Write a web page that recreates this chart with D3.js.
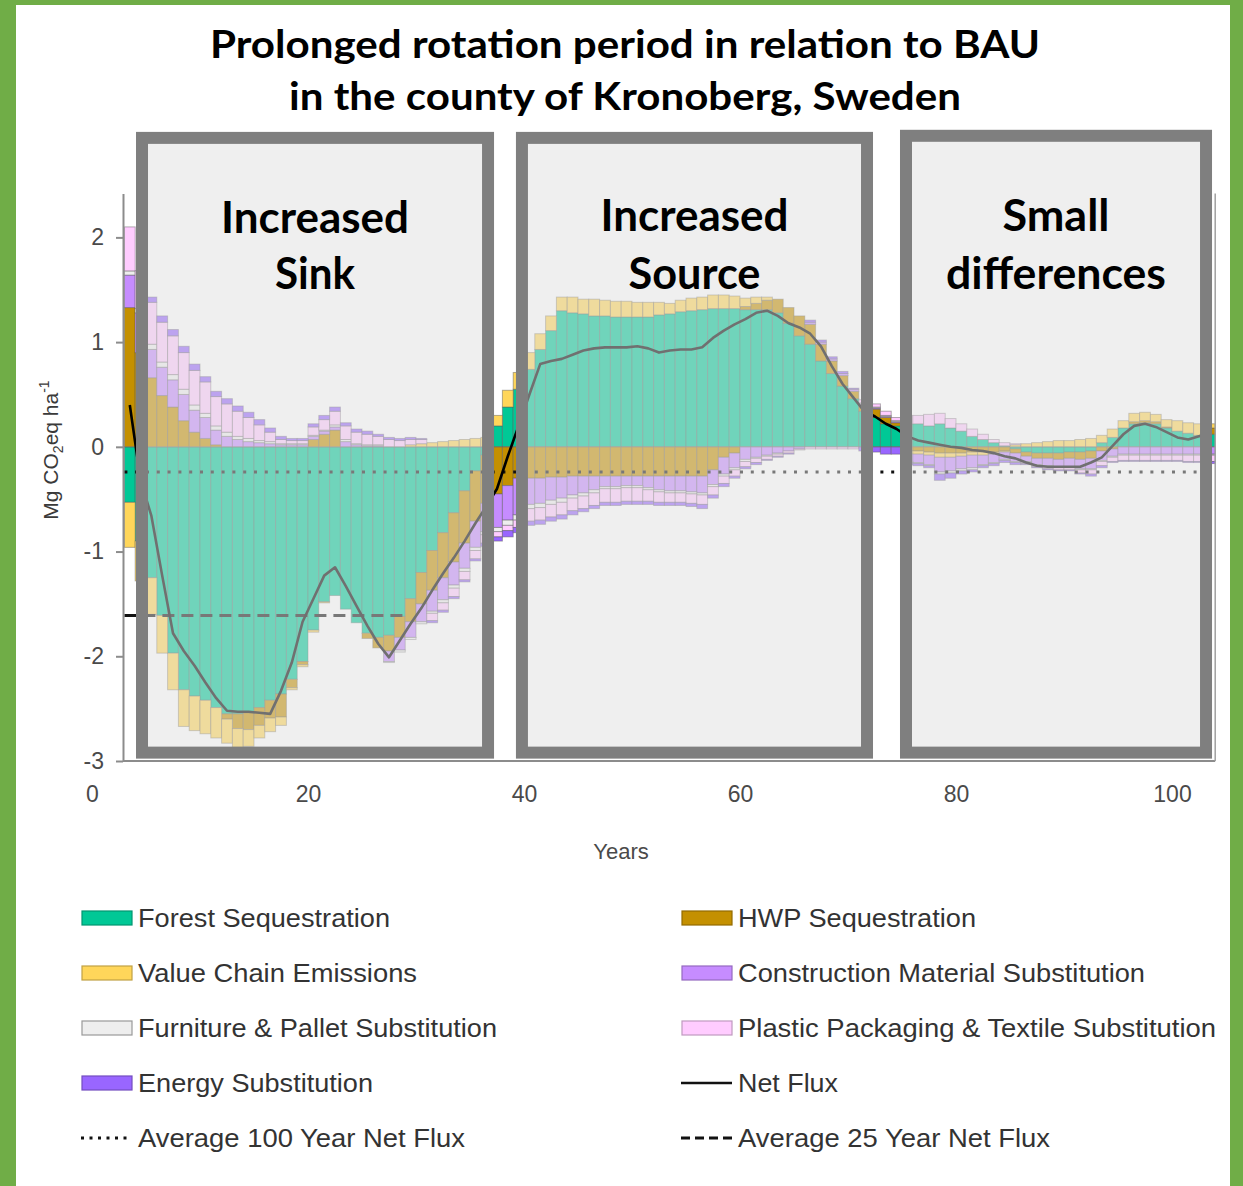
<!DOCTYPE html>
<html>
<head>
<meta charset="utf-8">
<script src="https://cdn.jsdelivr.net/npm/d3@7"></script>
<style>
  html, body { margin: 0; padding: 0; background: #fff; }
  svg { display: block; }
</style>
</head>
<body>
<svg id="chart"></svg>
<script>
// years shown as bars (one bar per year)
const years = [
     3,   4,   5,   6,   7,   8,   9,  10,  11,  12,
    13,  14,  15,  16,  17,  18,  19,  20,  21,  22,
    23,  24,  25,  26,  27,  28,  29,  30,  31,  32,
    33,  34,  35,  36,  37,  38,  39,  40,  41,  42,
    43,  44,  45,  46,  47,  48,  49,  50,  51,  52,
    53,  54,  55,  56,  57,  58,  59,  60,  61,  62,
    63,  64,  65,  66,  67,  68,  69,  70,  71,  72,
    73,  74,  75,  76,  77,  78,  79,  80,  81,  82,
    83,  84,  85,  86,  87,  88,  89,  90,  91,  92,
    93,  94,  95,  96,  97,  98,  99, 100, 101, 102,
   103
];

const forestSeq = [
  -0.53, -0.90, -1.25, -1.61, -1.97, -2.32, -2.38, -2.42, -2.49, -2.55,
  -2.55, -2.54, -2.49, -2.42, -2.36, -2.22, -2.05, -1.75, -1.48, -1.42,
  -1.55, -1.68, -1.78, -1.82, -1.80, -1.62, -1.45, -1.20, -0.99, -0.82,
  -0.63, -0.42, -0.23, -0.08,  0.20,  0.38,  0.55,  0.74,  0.93,  1.11,
   1.30,  1.28,  1.27,  1.25,  1.25,  1.24,  1.24,  1.24,  1.24,  1.26,
   1.27,  1.29,  1.30,  1.31,  1.32,  1.32,  1.32,  1.31,  1.31,  1.31,
   1.28,  1.18,  1.06,  0.98,  0.82,  0.70,  0.58,  0.46,  0.34,  0.28,
   0.22,  0.20,  0.22,  0.22,  0.20,  0.22,  0.18,  0.15,  0.10,  0.07,
   0.04,  0.01, -0.02, -0.05, -0.06, -0.06, -0.06, -0.05, -0.05, -0.04,
   0.04,  0.09,  0.18,  0.22,  0.23,  0.22,  0.18,  0.15,  0.13,  0.11,
   0.12
];

const hwpSeq = [
   1.33,  0.90,  0.66,  0.49,  0.38,  0.25,  0.14,  0.08,  0.02, -0.05,
  -0.14, -0.16, -0.17, -0.17, -0.22, -0.08, -0.03,  0.07,  0.12,  0.16,
   0.00,  0.00, -0.05, -0.10, -0.15, -0.20, -0.22, -0.30, -0.38, -0.43,
  -0.47, -0.50, -0.48, -0.46, -0.45, -0.37, -0.30, -0.30, -0.30, -0.29,
  -0.29, -0.28, -0.28, -0.28, -0.28, -0.28, -0.28, -0.28, -0.28, -0.28,
  -0.28, -0.28, -0.28, -0.28, -0.22, -0.10, -0.06,  0.03,  0.06,  0.09,
   0.13,  0.15,  0.19,  0.19,  0.16,  0.12,  0.10,  0.07,  0.06,  0.08,
   0.06,  0.03, -0.04, -0.04, -0.05, -0.06, -0.06, -0.06, -0.05, -0.05,
  -0.05, -0.04, -0.04, -0.04, -0.05, -0.05, -0.06, -0.06, -0.07, -0.07,
  -0.04, -0.02,  0.00,  0.02,  0.02,  0.02,  0.01,  0.00,  0.00,  0.00,
   0.06
];

const valueChain = [
  -0.43, -0.38, -0.35, -0.36, -0.35, -0.35, -0.33, -0.32, -0.29, -0.23,
  -0.18, -0.16, -0.12, -0.13, -0.08, -0.02, -0.02, -0.02, -0.01,  0.00,
   0.00,  0.00,  0.00,  0.00,  0.00,  0.00,  0.02,  0.03,  0.04,  0.05,
   0.06,  0.07,  0.08,  0.09,  0.10,  0.16,  0.16,  0.16,  0.15,  0.14,
   0.13,  0.15,  0.14,  0.16,  0.15,  0.15,  0.15,  0.14,  0.14,  0.12,
   0.10,  0.11,  0.12,  0.12,  0.13,  0.13,  0.12,  0.08,  0.06,  0.03,
   0.00,  0.00,  0.00,  0.00,  0.00,  0.00,  0.00,  0.00,  0.00,  0.00,
   0.00,  0.00, -0.03, -0.03, -0.03, -0.04, -0.04, -0.03, -0.03, -0.03,
  -0.02, -0.01,  0.02,  0.03,  0.04,  0.05,  0.06,  0.06,  0.07,  0.08,
   0.07,  0.08,  0.07,  0.08,  0.08,  0.07,  0.07,  0.10,  0.10,  0.11,
   0.04
];

const constructionSub = [
   0.31,  0.38,  0.27,  0.27,  0.26,  0.25,  0.21,  0.20,  0.14,  0.10,
   0.07,  0.05,  0.04,  0.03,  0.02,  0.02,  0.02,  0.03,  0.03,  0.03,
   0.05,  0.02,  0.01,  0.01, -0.10, -0.12, -0.15, -0.17, -0.20, -0.21,
  -0.22, -0.24, -0.25, -0.27, -0.32, -0.33, -0.35, -0.25, -0.24, -0.22,
  -0.20, -0.18, -0.16, -0.13, -0.10, -0.10, -0.09, -0.09, -0.11, -0.13,
  -0.14, -0.14, -0.15, -0.16, -0.14, -0.16, -0.14, -0.12, -0.10, -0.08,
  -0.06, -0.04, -0.02,  0.02,  0.02,  0.02,  0.02,  0.02,  0.01,  0.01,
   0.01,  0.01, -0.07, -0.08, -0.09, -0.14, -0.13, -0.12, -0.12, -0.09,
  -0.08, -0.07, -0.08, -0.05, -0.06, -0.07, -0.07, -0.08, -0.09, -0.10,
  -0.09, -0.07, -0.07, -0.07, -0.07, -0.07, -0.07, -0.07, -0.07, -0.07,
  -0.07
];

const furnitureSub = [
   0.04,  0.04,  0.05,  0.05,  0.05,  0.05,  0.05,  0.04,  0.04,  0.04,
   0.03,  0.03,  0.02,  0.02,  0.01,  0.01,  0.01,  0.01,  0.01,  0.02,
   0.02,  0.01,  0.01,  0.01, -0.01, -0.02, -0.02, -0.02, -0.02, -0.03,
  -0.03, -0.03, -0.03, -0.03, -0.04, -0.05, -0.05, -0.04, -0.04, -0.04,
  -0.04, -0.03, -0.03, -0.03, -0.02, -0.02, -0.02, -0.02, -0.02, -0.02,
  -0.02, -0.02, -0.02, -0.02, -0.02, -0.02, -0.02, -0.02, -0.01, -0.01,
  -0.01,  0.00,  0.00,  0.00,  0.00,  0.00,  0.00,  0.00,  0.01,  0.01,
   0.01,  0.01, -0.01, -0.01, -0.01, -0.02, -0.02, -0.02, -0.02, -0.01,
  -0.01, -0.01, -0.01, -0.01, -0.01, -0.01, -0.01, -0.01, -0.01, -0.01,
  -0.01, -0.01, -0.01, -0.01, -0.01, -0.01, -0.01, -0.01, -0.01, -0.01,
  -0.01
];

const plasticSub = [
   0.42,  0.36,  0.40,  0.38,  0.37,  0.35,  0.33,  0.30,  0.28,  0.27,
   0.24,  0.20,  0.15,  0.09,  0.04,  0.03,  0.03,  0.08,  0.10,  0.13,
   0.13,  0.11,  0.10,  0.08,  0.07,  0.06,  0.05,  0.04, -0.07, -0.07,
  -0.08, -0.08, -0.08, -0.08, -0.05, -0.05, -0.07, -0.12, -0.12, -0.12,
  -0.12, -0.12, -0.12, -0.12, -0.13, -0.13, -0.13, -0.13, -0.11, -0.10,
  -0.09, -0.09, -0.09, -0.09, -0.08, -0.07, -0.06, -0.05, -0.04, -0.03,
  -0.02, -0.02, -0.01, -0.02, -0.02, -0.02, -0.02, -0.02,  0.03,  0.03,
   0.04,  0.03,  0.08,  0.08,  0.11,  0.10,  0.09,  0.07,  0.07,  0.05,
   0.03,  0.03,  0.01, -0.01, -0.01, -0.02, -0.02, -0.02, -0.03, -0.04,
  -0.04, -0.04, -0.05, -0.05, -0.05, -0.05, -0.05, -0.05, -0.06, -0.06,
  -0.06
];

const energySub = [
   0.00,  0.00,  0.05,  0.06,  0.06,  0.06,  0.06,  0.05,  0.05,  0.05,
   0.05,  0.05,  0.05,  0.04,  0.03,  0.02,  0.02,  0.03,  0.04,  0.04,
   0.03,  0.03,  0.03,  0.02,  0.02,  0.02,  0.02,  0.01, -0.02, -0.02,
  -0.02, -0.02, -0.02, -0.03, -0.04, -0.06, -0.05, -0.04, -0.04, -0.04,
  -0.04, -0.04, -0.03, -0.03, -0.03, -0.03, -0.03, -0.03, -0.03, -0.03,
  -0.03, -0.03, -0.03, -0.04, -0.03, -0.03, -0.02, -0.02, -0.02, -0.01,
  -0.01, -0.01,  0.00,  0.02,  0.02,  0.02,  0.02,  0.01, -0.04, -0.05,
  -0.07, -0.07, -0.02, -0.02, -0.02, -0.06, -0.05, -0.03, -0.02, -0.02,
  -0.02, -0.02, -0.02, -0.01, -0.01, -0.01, -0.01, -0.01, -0.01, -0.02,
  -0.02, -0.01, -0.01, -0.01, -0.01, -0.01, -0.01, -0.01, -0.01, -0.01,
  -0.02
];

const netFlux = [
   0.40, -0.32, -0.66, -1.23, -1.78, -1.95, -2.09, -2.25, -2.40, -2.52,
  -2.53, -2.53, -2.54, -2.55, -2.33, -2.06, -1.67, -1.45, -1.23, -1.15,
  -1.33, -1.52, -1.71, -1.88, -2.01, -1.85, -1.69, -1.54, -1.37, -1.21,
  -1.06, -0.90, -0.73, -0.57, -0.40, -0.09,  0.20,  0.50,  0.79,  0.82,
   0.84,  0.88,  0.92,  0.94,  0.95,  0.95,  0.95,  0.96,  0.94,  0.90,
   0.92,  0.93,  0.93,  0.95,  1.04,  1.11,  1.17,  1.22,  1.28,  1.30,
   1.25,  1.18,  1.14,  1.08,  0.96,  0.77,  0.60,  0.47,  0.34,  0.29,
   0.22,  0.17,  0.10,  0.06,  0.04,  0.02,  0.00, -0.01, -0.03, -0.04,
  -0.06, -0.09, -0.11, -0.15, -0.18, -0.19, -0.19, -0.19, -0.19, -0.15,
  -0.10,  0.01,  0.12,  0.20,  0.22,  0.19,  0.14,  0.09,  0.07,  0.10,
   0.15
];

const avg100 = -0.24;          // average 100 year net flux
const avg25 = -1.61;           // average 25 year net flux
const avg25Span = [3, 29];     // years covered by the 25 year average

const yTicks = [-3, -2, -1, 0, 1, 2];
const xTicks = [0, 20, 40, 60, 80, 100];

// highlighted periods (in years / Mg CO2eq)
const boxStart = [4.63, 39.81, 75.37];
const boxEnd = [36.67, 71.76, 103.15];
const boxTop = [2.95, 2.95, 2.97];
const boxBottom = -2.92;
const boxTitles = [["Increased", "Sink"], ["Increased", "Source"], ["Small", "differences"]];

const keys = ["forest", "hwp", "valueChain", "construction", "furniture", "plastic", "energy"];
const colors = {
    forest: "#00c896",
    hwp: "#c49000",
    valueChain: "#ffd65a",
    construction: "#c68cff",
    furniture: "#eeeeee",
    plastic: "#ffccff",
    energy: "#9966ff"
};

const width = 1243;
const height = 1186;

const svg = d3.select("#chart")
    .attr("width", width)
    .attr("height", height);

// green frame
svg.append("rect").attr("width", width).attr("height", height).attr("fill", "#70ad47");
svg.append("rect").attr("x", 16).attr("y", 5).attr("width", 1230 - 16).attr("height", height - 5).attr("fill", "#fff");

const x = d3.scaleLinear().domain([0, 100]).range([92, 1172]);
const y = d3.scaleLinear().domain([-3, 2.42]).range([761, 193.4]);
const barW = x(1) - x(0);

const table = years.map((yr, i) => ({
    year: yr,
    forest: forestSeq[i],
    hwp: hwpSeq[i],
    valueChain: valueChain[i],
    construction: constructionSub[i],
    furniture: furnitureSub[i],
    plastic: plasticSub[i],
    energy: energySub[i],
    net: netFlux[i]
}));

const stacked = d3.stack().keys(keys).offset(d3.stackOffsetDiverging)(table);

const plot = svg.append("g");

plot.selectAll("g.layer")
    .data(stacked)
    .enter()
    .append("g")
    .attr("class", "layer")
    .attr("fill", d => colors[d.key])
    .selectAll("rect")
    .data(d => d.filter(p => p[1] !== p[0]))
    .enter()
    .append("rect")
    .attr("x", d => x(d.data.year))
    .attr("width", barW)
    .attr("y", d => y(Math.max(d[0], d[1])))
    .attr("height", d => Math.abs(y(d[0]) - y(d[1])))
    .attr("stroke", "#555")
    .attr("stroke-opacity", 0.45)
    .attr("stroke-width", 1);

// zero line
plot.append("line")
    .attr("x1", x(3)).attr("x2", x(104))
    .attr("y1", y(0)).attr("y2", y(0))
    .attr("stroke", "#777").attr("stroke-opacity", 0.5).attr("stroke-width", 1);

// average lines
plot.append("line")
    .attr("x1", x(3)).attr("x2", x(104))
    .attr("y1", y(avg100)).attr("y2", y(avg100))
    .attr("stroke", "#111").attr("stroke-width", 3)
    .attr("stroke-dasharray", "3 7.8");

plot.append("line")
    .attr("x1", x(avg25Span[0])).attr("x2", x(avg25Span[1]))
    .attr("y1", y(avg25)).attr("y2", y(avg25))
    .attr("stroke", "#111").attr("stroke-width", 3)
    .attr("stroke-dasharray", "12 7");

// net flux
plot.append("path")
    .datum(table)
    .attr("fill", "none")
    .attr("stroke", "#000")
    .attr("stroke-width", 2.6)
    .attr("stroke-linejoin", "round")
    .attr("d", d3.line().x(d => x(d.year + 0.5)).y(d => y(d.net)));

// axes
const axisFont = "'Liberation Sans', Arial, sans-serif";

const yAxis = svg.append("g")
    .attr("transform", `translate(${x(2.87)},0)`)
    .call(d3.axisLeft(y).tickValues(yTicks).tickSize(7).tickSizeOuter(0).tickPadding(12).tickFormat(d => String(d)));
yAxis.attr("font-size", 23).attr("font-family", axisFont);
yAxis.selectAll("text").attr("fill", "#4a4a4a");
yAxis.selectAll("line").attr("stroke", "#8c8c8c").attr("stroke-width", 2);
yAxis.select(".domain").attr("stroke", "#8c8c8c").attr("stroke-width", 2);

const xAxis = svg.append("g")
    .attr("transform", `translate(0,${y(-3)})`)
    .call(d3.axisBottom(x).tickValues(xTicks).tickSize(0).tickPadding(25));
xAxis.attr("font-size", 23).attr("font-family", axisFont);
xAxis.selectAll("text").attr("fill", "#4a4a4a");
xAxis.select(".domain")
    .attr("d", `M${x(2.87)},0H${x(104)}`)
    .attr("stroke", "#8c8c8c").attr("stroke-width", 2);

// right frame line of the plot
svg.append("line")
    .attr("x1", x(104)).attr("x2", x(104))
    .attr("y1", y(2.42)).attr("y2", y(-3))
    .attr("stroke", "#a0a0a0").attr("stroke-width", 1.5);

svg.append("text")
    .attr("x", 621).attr("y", 859)
    .attr("text-anchor", "middle")
    .attr("font-family", axisFont).attr("font-size", 22).attr("fill", "#4a4a4a")
    .text("Years");

const yTitle = svg.append("text")
    .attr("transform", "translate(58,450) rotate(-90)")
    .attr("text-anchor", "middle")
    .attr("font-family", axisFont).attr("font-size", 21).attr("fill", "#3a3a3a");
yTitle.append("tspan").text("Mg CO");
yTitle.append("tspan").attr("font-size", 14).attr("dy", 5).text("2");
yTitle.append("tspan").attr("dy", -5).text("eq ha");
yTitle.append("tspan").attr("font-size", 14).attr("dy", -9).text("-1");

// highlight boxes
const boxes = svg.append("g");
boxStart.forEach((s, i) => {
    boxes.append("rect")
        .attr("x", x(s)).attr("y", y(boxTop[i]))
        .attr("width", x(boxEnd[i]) - x(s))
        .attr("height", y(boxBottom) - y(boxTop[i]))
        .attr("fill", "#e0e0e0").attr("fill-opacity", 0.5)
        .attr("stroke", "#7f7f7f").attr("stroke-width", 12);
});

const titleFont = "Lato, 'Open Sans', sans-serif";
const boxTitleWidths = [[188, 80], [188, 132], [107, 220]];
const boxTitleBase = [[95, 151], [93, 151], [95, 153]];
boxTitles.forEach((lines, i) => {
    lines.forEach((t, j) => {
        boxes.append("text")
            .attr("x", (x(boxStart[i]) + x(boxEnd[i])) / 2)
            .attr("y", y(boxTop[i]) + boxTitleBase[i][j])
            .attr("text-anchor", "middle")
            .attr("font-family", titleFont).attr("font-weight", 700).attr("font-size", 43)
            .attr("textLength", boxTitleWidths[i][j]).attr("lengthAdjust", "spacingAndGlyphs")
            .attr("fill", "#000")
            .text(t);
    });
});

// chart title
const titleLines = ["Prolonged rotation period in relation to BAU", "in the county of Kronoberg, Sweden"];
const titleWidths = [830, 672];
titleLines.forEach((t, i) => {
    svg.append("text")
        .attr("x", 625).attr("y", 58 + i * 52)
        .attr("text-anchor", "middle")
        .attr("font-family", titleFont).attr("font-weight", 700).attr("font-size", 39)
        .attr("textLength", titleWidths[i]).attr("lengthAdjust", "spacingAndGlyphs")
        .attr("fill", "#000")
        .text(t);
});

// legend
const legendItems = [
    {label: "Forest Sequestration", kind: "rect", key: "forest", w: 252},
    {label: "HWP Sequestration", kind: "rect", key: "hwp", w: 238},
    {label: "Value Chain Emissions", kind: "rect", key: "valueChain", w: 279},
    {label: "Construction Material Substitution", kind: "rect", key: "construction", w: 407},
    {label: "Furniture & Pallet Substitution", kind: "rect", key: "furniture", w: 359},
    {label: "Plastic Packaging & Textile Substitution", kind: "rect", key: "plastic", w: 478},
    {label: "Energy Substitution", kind: "rect", key: "energy", w: 235},
    {label: "Net Flux", kind: "line", w: 100},
    {label: "Average 100 Year Net Flux", kind: "dot", w: 327},
    {label: "Average 25 Year Net Flux", kind: "dash", w: 312}
];

const legend = svg.append("g");
legendItems.forEach((item, i) => {
    const lx = i % 2 === 0 ? 82 : 682;
    const ly = 918 + Math.floor(i / 2) * 55;
    if (item.kind === "rect") {
        const c = colors[item.key];
        legend.append("rect")
            .attr("x", lx).attr("y", ly - 7).attr("width", 50).attr("height", 14)
            .attr("fill", c)
            .attr("stroke", item.key === "furniture" ? "#999" : d3.color(c).darker(0.8))
            .attr("stroke-width", 1.2);
    } else {
        legend.append("line")
            .attr("x1", lx - 1).attr("x2", lx + 50)
            .attr("y1", ly).attr("y2", ly)
            .attr("stroke", "#111")
            .attr("stroke-width", item.kind === "line" ? 2.6 : 3)
            .attr("stroke-dasharray", item.kind === "dot" ? "3 5.5" : item.kind === "dash" ? "9 5" : null);
    }
    legend.append("text")
        .attr("x", lx + 56).attr("y", ly)
        .attr("dy", "0.35em")
        .attr("font-family", axisFont).attr("font-size", 26).attr("fill", "#333")
        .attr("textLength", item.w).attr("lengthAdjust", "spacingAndGlyphs")
        .text(item.label);
});
</script>
</body>
</html>
